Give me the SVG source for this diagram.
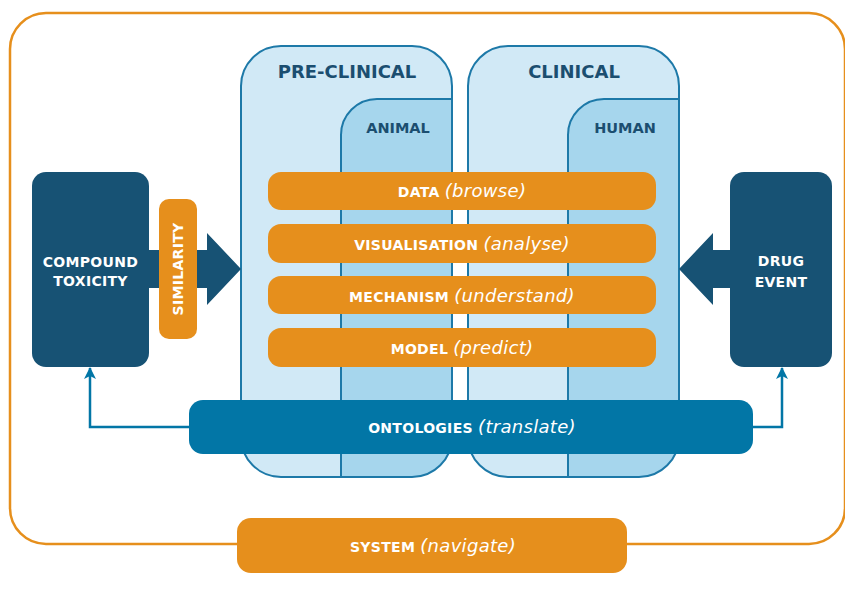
<svg xmlns="http://www.w3.org/2000/svg" width="845" height="600" viewBox="0 0 845 600">
<defs>
<style>
.frame{fill:none;stroke:#e68f1c;stroke-width:2.5}
.stage{fill:#d1e9f6}
.stageline{fill:none;stroke:#1d79a8;stroke-width:2}
.inner{fill:#a6d6ed;stroke:#1d79a8;stroke-width:2}
.bar{fill:#e68f1c}
.navy{fill:#175274}
.onto{fill:#0276a6}
.conn{fill:none;stroke:#0276a6;stroke-width:2.5}
.title{font-family:"DejaVu Sans","Liberation Sans",sans-serif;font-weight:bold;fill:#1b4e70;text-anchor:middle}
.lbl{font-family:"DejaVu Sans","Liberation Sans",sans-serif;font-weight:bold;font-size:14px;fill:#ffffff;text-anchor:middle;letter-spacing:0.3px}
.it{font-family:"DejaVu Sans","Liberation Sans",sans-serif;font-style:italic;font-weight:normal;font-size:18px}
</style>
<clipPath id="clipPre"><rect x="241" y="46" width="211" height="431" rx="40"/></clipPath>
<clipPath id="clipCli"><rect x="468" y="46" width="211" height="431" rx="40"/></clipPath>
<marker id="ah" viewBox="0 0 12 12" refX="11" refY="6" markerWidth="12" markerHeight="12" markerUnits="userSpaceOnUse" orient="auto">
<path d="M0,0 L12,6 L0,12 L3,6 Z" fill="#0276a6"/>
</marker>
</defs>

<rect id="frame" class="frame" x="10" y="13" width="835" height="531" rx="36"/>

<g id="preclinical">
<rect class="stage" x="241" y="46" width="211" height="431" rx="40"/>
<path class="inner" clip-path="url(#clipPre)" d="M341,480 V135 A36,36 0 0 1 377,99 H455 V480 Z"/>
<rect class="stageline" x="241" y="46" width="211" height="431" rx="40"/>
<text class="title" x="347" y="78" font-size="18">PRE-CLINICAL</text>
</g>
<g id="animal">
<text class="title" x="398" y="133" font-size="14.5">ANIMAL</text>
</g>

<g id="clinical">
<rect class="stage" x="468" y="46" width="211" height="431" rx="40"/>
<path class="inner" clip-path="url(#clipCli)" d="M568,480 V135 A36,36 0 0 1 604,99 H682 V480 Z"/>
<rect class="stageline" x="468" y="46" width="211" height="431" rx="40"/>
<text class="title" x="574" y="78" font-size="18">CLINICAL</text>
</g>
<g id="human">
<text class="title" x="625" y="133" font-size="14.5">HUMAN</text>
</g>

<g id="connectors">
<polygon class="navy" points="148,250 207,250 207,233 241,269 207,305 207,288 148,288"/>
<polygon class="navy" points="731,250 713,250 713,233 679,269 713,305 713,288 731,288"/>
<path class="conn" d="M190,427 H90 V368" marker-end="url(#ah)"/>
<path class="conn" d="M752,427 H782 V368" marker-end="url(#ah)"/>
</g>

<g id="compound-toxicity">
<rect class="navy" x="32" y="172" width="117" height="195" rx="14"/>
<text class="lbl" x="90.5" y="267">COMPOUND</text>
<text class="lbl" x="90.5" y="286">TOXICITY</text>
</g>

<g id="similarity">
<rect class="bar" x="159" y="199" width="38" height="140" rx="10"/>
<text class="lbl" transform="translate(183,269) rotate(-90)" x="0" y="0">SIMILARITY</text>
</g>

<g id="drug-event">
<rect class="navy" x="730" y="172" width="102" height="195" rx="14"/>
<text class="lbl" x="781" y="266">DRUG</text>
<text class="lbl" x="781" y="287">EVENT</text>
</g>

<g id="data">
<rect class="bar" x="268" y="172" width="388" height="38" rx="13"/>
<text class="lbl" x="462" y="197">DATA <tspan class="it">(browse)</tspan></text>
</g>
<g id="visualisation">
<rect class="bar" x="268" y="224" width="388" height="39" rx="13"/>
<text class="lbl" x="462" y="250">VISUALISATION <tspan class="it">(analyse)</tspan></text>
</g>
<g id="mechanism">
<rect class="bar" x="268" y="276" width="388" height="38" rx="13"/>
<text class="lbl" x="462" y="302">MECHANISM <tspan class="it">(understand)</tspan></text>
</g>
<g id="model">
<rect class="bar" x="268" y="328" width="388" height="39" rx="13"/>
<text class="lbl" x="462" y="354">MODEL <tspan class="it">(predict)</tspan></text>
</g>

<g id="ontologies">
<rect class="onto" x="189" y="400" width="564" height="54" rx="14"/>
<text class="lbl" x="472" y="433">ONTOLOGIES <tspan class="it">(translate)</tspan></text>
</g>

<g id="system">
<rect class="bar" x="237" y="518" width="390" height="55" rx="14"/>
<text class="lbl" x="433" y="552">SYSTEM <tspan class="it">(navigate)</tspan></text>
</g>
</svg>
